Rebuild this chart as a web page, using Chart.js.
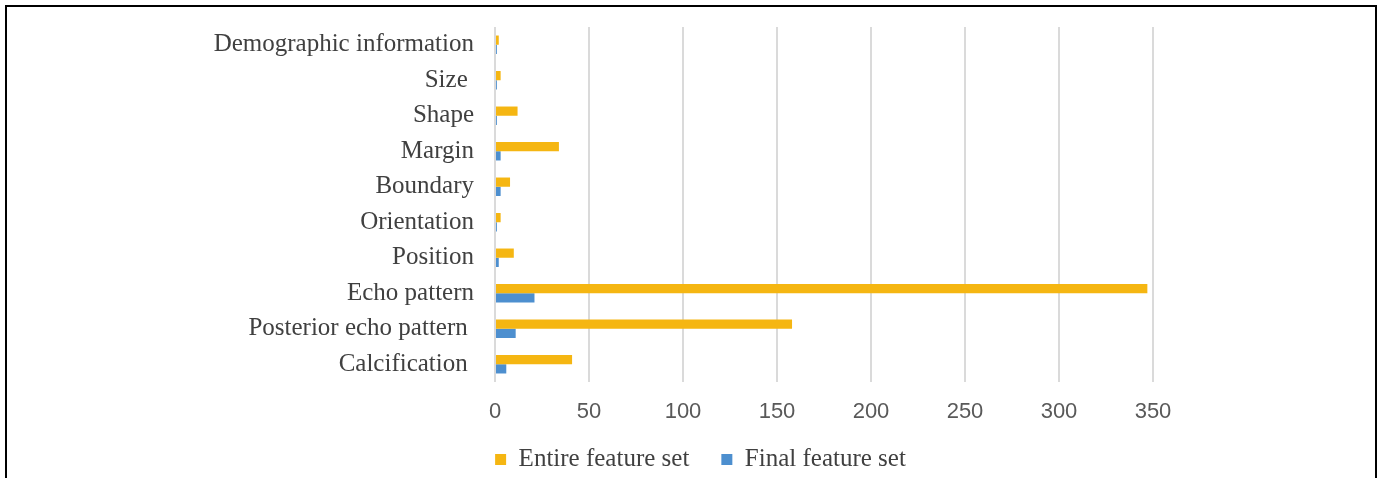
<!DOCTYPE html>
<html>
<head>
<meta charset="utf-8">
<script src="https://cdn.jsdelivr.net/npm/chart.js@4/dist/chart.umd.min.js"></script>
<style>
  html, body { margin: 0; padding: 0; background: #fff; overflow: hidden; width: 1383px; height: 478px; }
  #wrap { position: absolute; left: 0; top: 0; width: 1383px; height: 520px; }
  #frame { position: absolute; left: 5px; top: 5px; width: 1368px; height: 500px; border: 2px solid #000; pointer-events: none; }
</style>
</head>
<body>
<div id="wrap"><canvas id="c" width="1383" height="520"></canvas></div>
<div id="frame"></div>
<script>
// Feature groups and how many features each contributes
const categories = [
  'Demographic information',
  'Size ',
  'Shape',
  'Margin',
  'Boundary',
  'Orientation',
  'Position',
  'Echo pattern',
  'Posterior echo pattern ',
  'Calcification '
];
const entireFeatureSet = [2, 3, 12, 34, 8, 3, 10, 347, 158, 41];
const finalFeatureSet  = [1, 1, 1, 3, 3, 1, 2, 21, 11, 6];
const xTicks = [0, 50, 100, 150, 200, 250, 300, 350];

const serif = "'Liberation Serif', 'Times New Roman', serif";
const sans = "'Liberation Sans Narrow', 'Arial Narrow', sans-serif";

// Nudges the legend so it sits under the middle of the page rather than the left part
const legendShift = {
  id: 'legendShift',
  beforeDraw(chart, args, opts) {
    const lg = chart.legend;
    if (!lg || lg._shifted) return;
    lg.left += opts.dx; lg.right += opts.dx;
    lg.top += opts.dy; lg.bottom += opts.dy;
    lg._shifted = true;
  }
};

new Chart(document.getElementById('c'), {
  type: 'bar',
  data: {
    labels: categories,
    datasets: [
      { label: 'Entire feature set', data: entireFeatureSet, backgroundColor: '#F5B612',
        barPercentage: 1, categoryPercentage: 0.52 },
      { label: 'Final feature set', data: finalFeatureSet, backgroundColor: '#4D8FCF',
        barPercentage: 1, categoryPercentage: 0.52 }
    ]
  },
  plugins: [legendShift],
  options: {
    indexAxis: 'y',
    responsive: false,
    animation: false,
    layout: { padding: { left: 0, right: 230, top: 27, bottom: 25 } },
    plugins: {
      tooltip: { enabled: false },
      legendShift: { dx: 124, dy: -13 },
      legend: {
        position: 'bottom',
        labels: {
          boxWidth: 11, boxHeight: 11, padding: 32,
          color: '#404040',
          font: { family: serif, size: 25 }
        }
      }
    },
    scales: {
      x: {
        min: 0, max: 350,
        afterBuildTicks: (s) => { s.ticks = xTicks.map(v => ({ value: v })); },
        afterFit: (s) => { s.height = 46; s.paddingLeft = 0; s.paddingRight = 0; },
        border: { display: false },
        grid: { color: '#dadada', lineWidth: 2, drawTicks: false },
        ticks: { padding: 17, color: '#595959', font: { family: sans, size: 22 } }
      },
      y: {
        afterFit: (s) => { s.width = 495; s.paddingTop = 0; s.paddingBottom = 0; },
        border: { display: false },
        grid: { display: false, drawTicks: false },
        ticks: { padding: 21, color: '#404040', font: { family: serif, size: 25 } }
      }
    }
  }
});
</script>
</body>
</html>
